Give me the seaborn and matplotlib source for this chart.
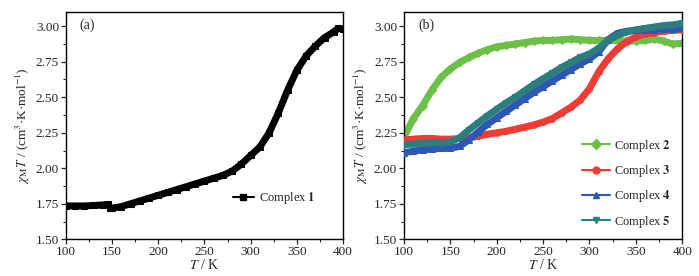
import matplotlib
matplotlib.use("Agg")
import matplotlib.pyplot as plt
from matplotlib.lines import Line2D
from matplotlib.ticker import MultipleLocator
import pandas as pd
import seaborn as sns

# ---- data: panel (a) ----
T1 = [100, 110, 120, 130, 140, 145, 148, 150, 160, 170, 180, 190, 200, 210, 220,
      230, 240, 250, 260, 270, 280, 290, 300, 310, 320, 330, 340, 350, 360, 370,
      380, 390, 395, 400]
chi1 = [1.735, 1.735, 1.735, 1.738, 1.742, 1.745, 1.72, 1.72, 1.73, 1.75, 1.77,
        1.79, 1.81, 1.83, 1.85, 1.87, 1.89, 1.91, 1.93, 1.95, 1.98, 2.03, 2.09,
        2.15, 2.25, 2.39, 2.55, 2.69, 2.79, 2.86, 2.92, 2.96, 2.985, 2.98]

# ---- data: panel (b) ----
Tb = [100, 110, 120, 130, 140, 150, 160, 170, 180, 190, 200, 210, 220, 230, 240,
      250, 260, 270, 280, 290, 300, 310, 320, 330, 340, 350, 360, 370, 380, 390, 400]
chi2 = [2.22, 2.35, 2.44, 2.55, 2.64, 2.70, 2.745, 2.78, 2.81, 2.835, 2.855, 2.865,
        2.875, 2.885, 2.895, 2.90, 2.90, 2.905, 2.91, 2.905, 2.90, 2.90, 2.90, 2.90,
        2.895, 2.895, 2.90, 2.91, 2.895, 2.875, 2.88]
chi3 = [2.20, 2.205, 2.21, 2.21, 2.205, 2.205, 2.21, 2.215, 2.225, 2.24, 2.25, 2.26,
        2.275, 2.29, 2.305, 2.325, 2.35, 2.39, 2.43, 2.48, 2.56, 2.68, 2.77, 2.84,
        2.89, 2.925, 2.945, 2.955, 2.965, 2.97, 2.975]
chi4 = [2.11, 2.12, 2.13, 2.135, 2.14, 2.14, 2.155, 2.20, 2.255, 2.31, 2.355, 2.40,
        2.445, 2.49, 2.535, 2.575, 2.615, 2.655, 2.695, 2.735, 2.77, 2.82, 2.905,
        2.95, 2.965, 2.97, 2.975, 2.975, 2.98, 2.98, 2.985]
chi5 = [2.165, 2.17, 2.175, 2.18, 2.18, 2.185, 2.215, 2.27, 2.32, 2.37, 2.415, 2.46,
        2.50, 2.545, 2.59, 2.63, 2.67, 2.71, 2.745, 2.78, 2.805, 2.845, 2.90, 2.935,
        2.96, 2.975, 2.985, 2.995, 3.005, 3.01, 3.02]

labels_b = ["2", "3", "4", "5"]
colors_b = ["#6cbf47", "#ef3b34", "#2f56b3", "#2b7e7d"]
markers_b = ["D", "o", "^", "v"]

sns.set_style("ticks")
plt.rcParams['font.family'] = ['Liberation Serif', 'DejaVu Serif']
plt.rcParams['mathtext.fontset'] = 'stix'
plt.rcParams['axes.linewidth'] = 1.0

fig = plt.figure(figsize=(6.99, 2.76), dpi=100)
ax1 = fig.add_axes([0.0944, 0.133, 0.3963, 0.8235])
ax2 = fig.add_axes([0.578, 0.133, 0.398, 0.8235])

df1 = pd.DataFrame({"T": T1, "chi": chi1})
sns.lineplot(data=df1, x="T", y="chi", ax=ax1, color="black", lw=5,
             marker="s", ms=4, mec="black", sort=False, legend=False)

dfb = pd.DataFrame({"T": Tb, "2": chi2, "3": chi3, "4": chi4, "5": chi5})
for i, (lab, c, m) in enumerate(zip(labels_b, colors_b, markers_b)):
    sns.lineplot(data=dfb, x="T", y=lab, ax=ax2, color=c, lw=5, marker=m,
                 ms=4, mec=c, sort=False, legend=False, zorder=2 + i)

ylab = r'$\chi_{\mathrm{M}}T$ / (cm$^{3}$·K·mol$^{-1}$)'
xlab = r'$T$ / K'
for ax, tag in [(ax1, "(a)"), (ax2, "(b)")]:
    ax.set_xlim(100, 400)
    ax.set_ylim(1.5, 3.1)
    ax.xaxis.set_major_locator(MultipleLocator(50))
    ax.xaxis.set_minor_locator(MultipleLocator(25))
    ax.yaxis.set_major_locator(MultipleLocator(0.25))
    ax.yaxis.set_minor_locator(MultipleLocator(0.125))
    ax.yaxis.set_major_formatter(matplotlib.ticker.FormatStrFormatter('%.2f'))
    ax.tick_params(which='major', direction='out', length=3.5, width=0.9,
                   labelsize=9.5, pad=1.5, top=False, right=False)
    ax.tick_params(which='minor', direction='out', length=2, width=0.8,
                   top=False, right=False)
    for s in ax.spines.values():
        s.set_visible(True)
        s.set_color("black")
        s.set_linewidth(1.0)
    ax.set_xlabel(xlab, fontsize=10, labelpad=0)
    ax.set_ylabel(ylab, fontsize=9.5, labelpad=3)
    ax.text(0.05, 0.942, tag, transform=ax.transAxes, fontsize=10,
            ha='left', va='center')

h1 = [Line2D([], [], color="black", lw=1.5, marker="s", ms=5)]
ax1.legend(h1, [r'Complex $\mathbf{1}$'], loc='center left',
           bbox_to_anchor=(0.57, 0.18), frameon=False, fontsize=9,
           handlelength=1.7, handletextpad=0.4, borderpad=0.2)

hb = [Line2D([], [], color=c, lw=1.5, marker=m, ms=5)
      for c, m in zip(colors_b, markers_b)]
ax2.legend(hb, [rf'Complex $\mathbf{{{l}}}$' for l in labels_b],
           loc='center left', bbox_to_anchor=(0.61, 0.245), frameon=False,
           fontsize=9, handlelength=2.2, handletextpad=0.3,
           labelspacing=0.75, borderpad=0.2)

fig.savefig("out.png", dpi=100)
